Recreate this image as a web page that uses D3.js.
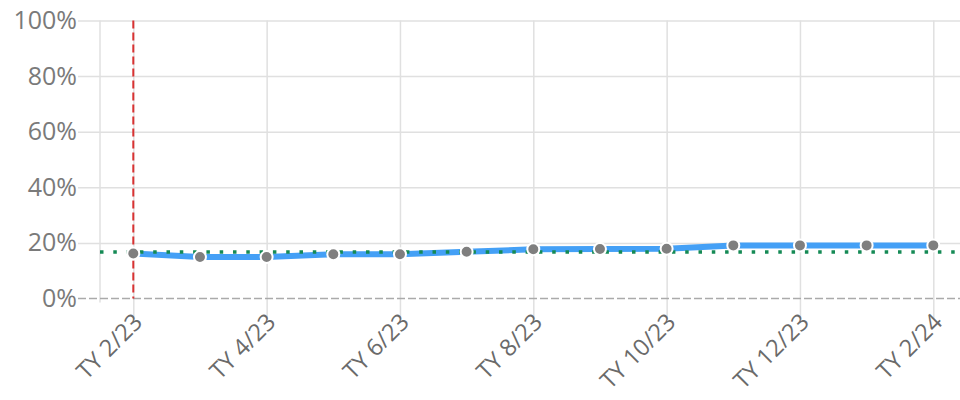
<!DOCTYPE html>
<html>
<head>
<meta charset="utf-8">
<script src="https://cdn.jsdelivr.net/npm/d3@7"></script>
<style>
  body { margin: 0; background: #fff; }
  text { font-family: "Segoe UI", "Open Sans", "Noto Sans", sans-serif; }
</style>
</head>
<body>
<script>
// chart data
var months = ["TY 2/23", "TY 3/23", "TY 4/23", "TY 5/23", "TY 6/23", "TY 7/23", "TY 8/23",
              "TY 9/23", "TY 10/23", "TY 11/23", "TY 12/23", "TY 1/24", "TY 2/24"];
var rates = [16.2, 14.9, 14.9, 15.9, 15.9, 16.8, 17.7, 17.8, 17.9, 19.1, 19.1, 19.1, 19.1];
var average = 16.7;
var yTicks = [0, 20, 40, 60, 80, 100];
var markerMonth = "TY 2/23";

var width = 960, height = 400;

var svg = d3.select("body").append("svg")
    .attr("width", width)
    .attr("height", height);

//scales
var x = d3.scalePoint()
    .domain(months)
    .range([133.3, 933.3]);

var y = d3.scaleLinear()
    .domain([0, 100])
    .range([298.5, 20.5]);

var plotLeft = 100, plotRight = 966;

//horizontal grid + y labels
svg.append("g")
    .attr("transform", "translate(" + plotLeft + ",0)")
    .call(d3.axisLeft(y)
        .tickValues(yTicks)
        .tickSize(22)
        .tickFormat(function(d) { return d + "%"; }))
    .call(function(g) {
        g.select(".domain").remove();
        g.selectAll(".tick line")
            .attr("x2", plotRight - plotLeft)
            .attr("x1", -22)
            .attr("stroke", "#e0e0e0")
            .attr("stroke-width", 1.5)
            .filter(function(d) { return d === 0; }).remove();
        g.selectAll(".tick text")
            .attr("x", -23)
            .attr("fill", "#7a7a7a")
            .attr("font-size", 25);
    });

//left edge of plot
svg.append("line")
    .attr("x1", plotLeft).attr("x2", plotLeft)
    .attr("y1", y(100)).attr("y2", y(0) + 4)
    .attr("stroke", "#e0e0e0")
    .attr("stroke-width", 1.5);

//vertical grid + x labels (every other month)
var labelled = months.filter(function(d, i) { return i % 2 === 0; });
svg.append("g")
    .attr("transform", "translate(0," + y(0) + ")")
    .call(d3.axisBottom(x)
        .tickValues(labelled)
        .tickSize(0))
    .call(function(g) {
        g.select(".domain").remove();
        g.selectAll(".tick line")
            .attr("y1", y(100) - y(0))
            .attr("y2", 21)
            .attr("stroke", "#e0e0e0")
            .attr("stroke-width", 1.5);
        g.selectAll(".tick text")
            .attr("fill", "#6a6a6a")
            .attr("font-size", 23.5)
            .attr("text-anchor", "end")
            .attr("dy", "0.35em")
            .attr("transform", "translate(2,17) rotate(-45)");
    });

//zero line
svg.append("line")
    .attr("x1", 78).attr("x2", width)
    .attr("y1", y(0)).attr("y2", y(0))
    .attr("stroke", "#aaa")
    .attr("stroke-width", 1.5)
    .attr("stroke-dasharray", "8,3");

//series line
var line = d3.line()
    .x(function(d, i) { return x(months[i]); })
    .y(function(d) { return y(d); });

svg.append("path")
    .datum(rates)
    .attr("d", line)
    .attr("fill", "none")
    .attr("stroke", "#44a0f6")
    .attr("stroke-width", 6);

//average line
svg.append("line")
    .attr("x1", plotLeft).attr("x2", width)
    .attr("y1", y(average)).attr("y2", y(average))
    .attr("stroke", "#158a55")
    .attr("stroke-width", 3.5)
    .attr("stroke-dasharray", "3.5,9.8");

//marker line
svg.append("line")
    .attr("x1", x(markerMonth)).attr("x2", x(markerMonth))
    .attr("y1", y(100)).attr("y2", y(0))
    .attr("stroke", "#d83232")
    .attr("stroke-width", 2)
    .attr("stroke-dasharray", "8,4");

//points
svg.selectAll("circle.pt")
    .data(rates)
    .enter().append("circle")
    .attr("class", "pt")
    .attr("cx", function(d, i) { return x(months[i]); })
    .attr("cy", function(d) { return y(d); })
    .attr("r", 6)
    .attr("fill", "#7f7f7f")
    .attr("stroke", "#fff")
    .attr("stroke-width", 2);
</script>
</body>
</html>
